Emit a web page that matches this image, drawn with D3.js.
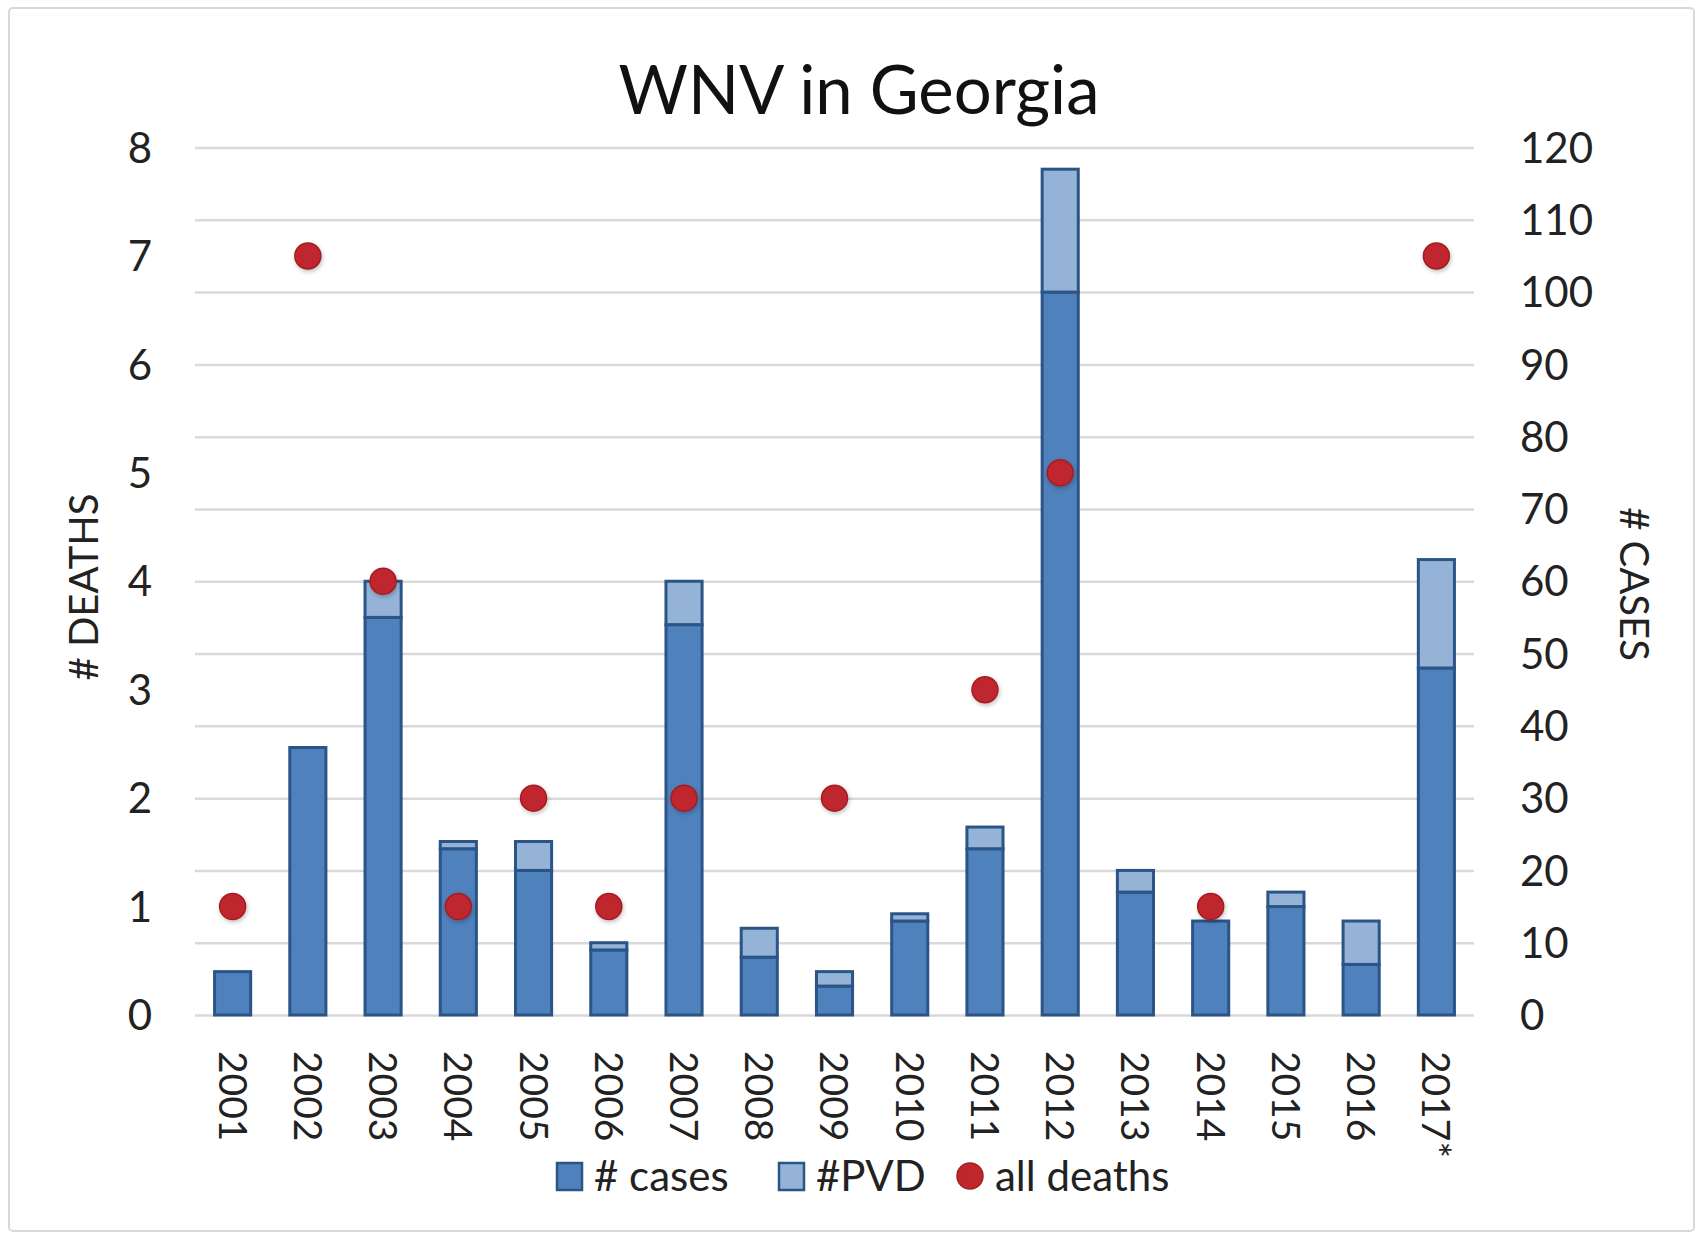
<!DOCTYPE html>
<html>
<head>
<meta charset="utf-8">
<script src="https://cdn.jsdelivr.net/npm/d3@7"></script>
<style>
  html, body { margin: 0; padding: 0; background: #fff; }
  svg { display: block; font-family: Lato, "Open Sans", sans-serif; }
</style>
</head>
<body>
<svg id="chart" width="1703" height="1243"></svg>
<script>
// West Nile virus in Georgia, by year
const years = ["2001","2002","2003","2004","2005","2006","2007","2008","2009",
               "2010","2011","2012","2013","2014","2015","2016","2017*"];
const cases = [6, 37, 55, 23, 20, 9, 54, 8, 4, 13, 23, 100, 17, 13, 15, 7, 48];
const pvd   = [0, 0, 5, 1, 4, 1, 6, 4, 2, 1, 3, 17, 3, 0, 2, 6, 15];
const deaths = [1, 7, 4, 1, 2, 1, 2, null, 2, null, 3, 5, null, 1, null, null, 7];
const deathTicks = [0, 1, 2, 3, 4, 5, 6, 7, 8];
const caseTicks = [0, 10, 20, 30, 40, 50, 60, 70, 80, 90, 100, 110, 120];
const legendItems = ["# cases", "#PVD", "all deaths"];

const W = 1703, H = 1243;
const plot = { left: 195, right: 1474, top: 147.5, bottom: 1015 };

const colors = { cases: "#4f81bd", pvd: "#95b3d7", stroke: "#2b5487", dot: "#c0272d", grid: "#d9d9d9" };

const svg = d3.select("#chart");

// outer frame
svg.append("rect")
  .attr("x", 9).attr("y", 8).attr("width", W - 18).attr("height", H - 20)
  .attr("rx", 4).attr("fill", "#fff").attr("stroke", "#d9d9d9").attr("stroke-width", 2);

const x = d3.scaleBand().domain(years).range([plot.left, plot.right]).paddingInner(0.52).paddingOuter(0.26);
const yCases = d3.scaleLinear().domain([0, 120]).range([plot.bottom, plot.top]);
const yDeaths = d3.scaleLinear().domain([0, 8]).range([plot.bottom, plot.top]);

// gridlines (shared between both axes)
svg.append("g")
  .attr("transform", `translate(${plot.left},0)`)
  .call(d3.axisLeft(yCases).tickValues(caseTicks).tickSize(-(plot.right - plot.left)).tickFormat(""))
  .call(g => g.select(".domain").remove())
  .call(g => g.selectAll("line").attr("stroke", colors.grid).attr("stroke-width", 2.5));

// left axis: deaths
svg.append("g")
  .attr("transform", `translate(${plot.left - 43},0)`)
  .call(d3.axisLeft(yDeaths).tickValues(deathTicks).tickSize(0).tickPadding(0))
  .call(g => g.select(".domain").remove())
  .call(g => g.selectAll("text").attr("font-size", 42).attr("fill", "#222")
    .attr("font-family", "Lato, sans-serif").attr("dy", "0.35em"));

// right axis: cases
svg.append("g")
  .attr("transform", `translate(${plot.right + 46},0)`)
  .call(d3.axisRight(yCases).tickValues(caseTicks).tickSize(0).tickPadding(0))
  .call(g => g.select(".domain").remove())
  .call(g => g.selectAll("text").attr("font-size", 42).attr("fill", "#222")
    .attr("font-family", "Lato, sans-serif").attr("dy", "0.35em"));

// stacked bars
const stackData = years.map((yr, i) => ({ year: yr, cases: cases[i], pvd: pvd[i] }));
const series = d3.stack().keys(["cases", "pvd"])(stackData);

svg.append("g").selectAll("g")
  .data(series).join("g")
  .attr("fill", d => colors[d.key])
  .selectAll("rect")
  .data(d => d.filter(s => s[1] - s[0] > 0))
  .join("rect")
  .attr("x", d => x(d.data.year))
  .attr("width", x.bandwidth())
  .attr("y", d => yCases(d[1]))
  .attr("height", d => yCases(d[0]) - yCases(d[1]))
  .attr("stroke", colors.stroke)
  .attr("stroke-width", 3);

// deaths markers
const defs = svg.append("defs");
const f = defs.append("filter").attr("id", "soft").attr("x", "-50%").attr("y", "-50%").attr("width", "200%").attr("height", "200%");
f.append("feDropShadow").attr("dx", 1).attr("dy", 2).attr("stdDeviation", 2).attr("flood-color", "#000").attr("flood-opacity", 0.25);

svg.append("g").selectAll("circle")
  .data(years.map((yr, i) => ({ year: yr, v: deaths[i] })).filter(d => d.v != null))
  .join("circle")
  .attr("cx", d => x(d.year) + x.bandwidth() / 2)
  .attr("cy", d => yDeaths(d.v))
  .attr("r", 13)
  .attr("fill", colors.dot)
  .attr("stroke", "#a41e22")
  .attr("stroke-width", 1.5)
  .attr("filter", "url(#soft)");

// category labels (rotated)
svg.append("g").selectAll("text")
  .data(years).join("text")
  .attr("transform", d => `translate(${x(d) + x.bandwidth() / 2},1051) rotate(90)`)
  .attr("text-anchor", "start")
  .attr("dy", "0.36em")
  .attr("font-size", 39)
  .attr("fill", "#222")
  .text(d => d);

// title
svg.append("text")
  .attr("x", 859).attr("y", 114)
  .attr("text-anchor", "middle")
  .attr("font-size", 67)
  .attr("fill", "#111")
  .text("WNV in Georgia");

// axis titles
svg.append("text")
  .attr("transform", "translate(84,587) rotate(-90)")
  .attr("text-anchor", "middle").attr("dy", "0.35em")
  .attr("font-size", 40).attr("fill", "#222")
  .text("# DEATHS");

svg.append("text")
  .attr("transform", "translate(1634,584) rotate(90)")
  .attr("text-anchor", "middle").attr("dy", "0.35em")
  .attr("font-size", 40).attr("fill", "#222")
  .text("# CASES");

// legend
const legend = svg.append("g").attr("transform", "translate(0,1176)");
const lg = [
  { label: legendItems[0], type: "rect", fill: colors.cases, x: 557 },
  { label: legendItems[1], type: "rect", fill: colors.pvd, x: 779 },
  { label: legendItems[2], type: "dot", fill: colors.dot, x: 958 }
];
lg.forEach(it => {
  if (it.type === "rect") {
    legend.append("rect").attr("x", it.x).attr("y", -13).attr("width", 25).attr("height", 27)
      .attr("fill", it.fill).attr("stroke", colors.stroke).attr("stroke-width", 2.5);
  } else {
    legend.append("circle").attr("cx", it.x + 12).attr("cy", 0).attr("r", 13)
      .attr("fill", it.fill).attr("stroke", "#a41e22").attr("stroke-width", 1.5);
  }
  legend.append("text").attr("x", it.x + 37).attr("y", 0).attr("dy", "0.35em")
    .attr("font-size", 42).attr("fill", "#222").text(it.label);
});
</script>
</body>
</html>
